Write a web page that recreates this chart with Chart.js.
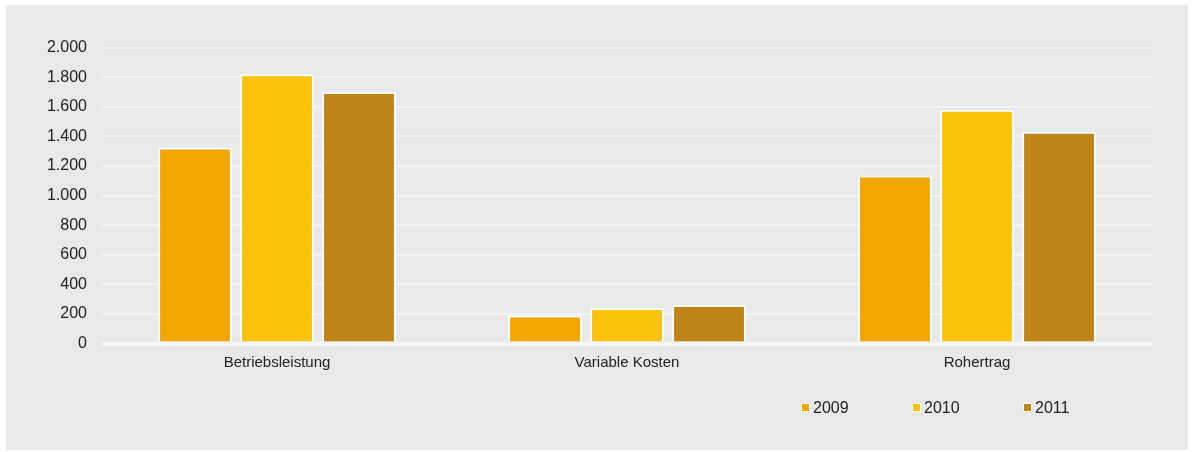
<!DOCTYPE html>
<html>
<head>
<meta charset="utf-8">
<script src="https://cdn.jsdelivr.net/npm/chart.js@4/dist/chart.umd.min.js"></script>
<style>
  body { margin: 0; background: #fff; font-family: "Liberation Sans", Arial, sans-serif; }
  #panel { position: absolute; left: 6px; top: 5px; width: 1182px; height: 445px; background: #e8e9eb; }
  #chart { position: absolute; left: 0; top: 0; }
  #legend { position: absolute; top: 393px; left: 795px; height: 20px; }
  .item { position: absolute; top: 0; font-size: 16px; color: #222; white-space: nowrap; line-height: 20px; }
  .item span.box { display: inline-block; width: 7px; height: 7px; border: 1px solid #fff; margin-right: 3px; vertical-align: 1px; }
</style>
</head>
<body>
<div id="panel">
  <canvas id="chart" width="1182" height="445"></canvas>
  <div id="legend"></div>
</div>
<script>
const categories = ['Betriebsleistung', 'Variable Kosten', 'Rohertrag'];
const years = ['2009', '2010', '2011'];
const values2009 = [1325, 190, 1135];
const values2010 = [1820, 240, 1580];
const values2011 = [1700, 260, 1430];
const colors = ['#f4a600', '#fac40d', '#bf8316'];
const yTicks = [0, 200, 400, 600, 800, 1000, 1200, 1400, 1600, 1800, 2000];

const series = [values2009, values2010, values2011];

const ctx = document.getElementById('chart').getContext('2d');
new Chart(ctx, {
    type: 'bar',
    data: {
        labels: categories,
        datasets: years.map((y, i) => ({
            label: y,
            data: series[i],
            backgroundColor: colors[i],
            borderColor: '#ffffff',
            borderWidth: 2,
            barPercentage: 0.9,
            categoryPercentage: 0.703
        }))
    },
    options: {
        responsive: false,
        animation: false,
        layout: { padding: { top: 42.5, right: 36, bottom: 76.5, left: 0 } },
        plugins: {
            legend: { display: false },
            tooltip: { enabled: false }
        },
        scales: {
            x: {
                grid: { display: false, drawTicks: false },
                border: { display: false },
                ticks: { color: '#222', font: { family: 'Liberation Sans', size: 15 }, padding: 10 },
                afterFit: (scale) => { scale.height = 30; }
            },
            y: {
                min: 0,
                max: 2000,
                afterBuildTicks: (scale) => { scale.ticks = yTicks.map(v => ({ value: v })); },
                grid: {
                    color: (c) => c.tick && c.tick.value === 0 ? '#f6f6f7' : '#f3f4f5',
                    lineWidth: (c) => c.tick && c.tick.value === 0 ? 4 : 2,
                    drawTicks: false
                },
                border: { display: false },
                ticks: {
                    color: '#222',
                    font: { family: 'Liberation Sans', size: 16 },
                    padding: 15,
                    callback: (v) => v.toLocaleString('de-DE')
                },
                afterFit: (scale) => { scale.width = 96; }
            }
        }
    }
});

// legend below the plot, right side
const legend = document.getElementById('legend');
years.forEach((y, i) => {
    const item = document.createElement('div');
    item.className = 'item';
    item.style.left = (i * 111) + 'px';
    item.innerHTML = '<span class="box" style="background:' + colors[i] + '"></span>' + y;
    legend.appendChild(item);
});
</script>
</body>
</html>
